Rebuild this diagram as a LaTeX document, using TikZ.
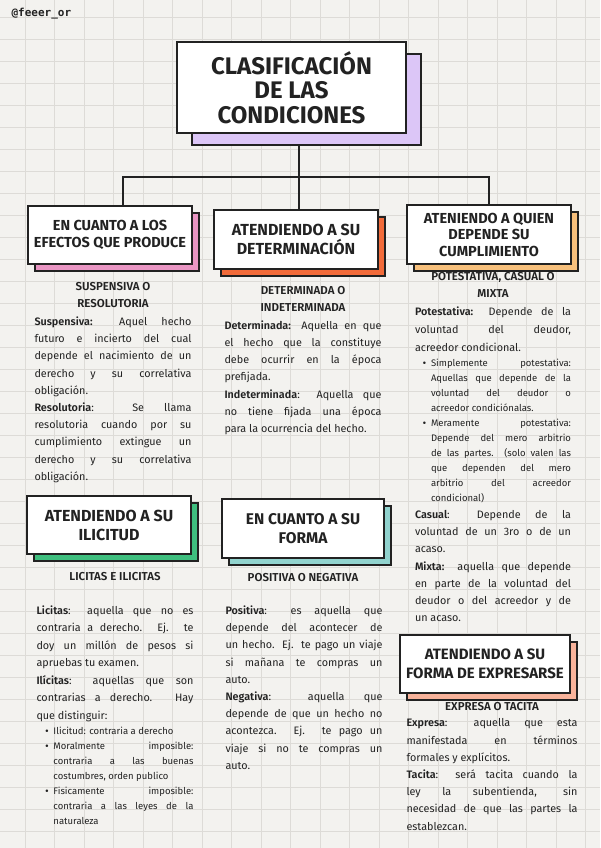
\documentclass[tikz,border=0pt]{standalone}
\usepackage{fontspec}
\setmainfont{Fira Sans}[BoldFont={* SemiBold}]
\newfontfamily\hdfont{Fira Sans}[UprightFont={* Bold}]
\newfontfamily\tagfont{DejaVu Sans Mono}
\usepackage{xcolor}
\usepackage{tikz}
\usetikzlibrary{positioning,shadows,backgrounds}

\setlength{\parindent}{0pt}

\definecolor{paper}{HTML}{F3F2EF}
\definecolor{gridc}{HTML}{DDDBD7}
\definecolor{tinta}{HTML}{222222}
\definecolor{lila}{HTML}{DCC6F7}
\definecolor{rosa}{HTML}{E995C3}
\definecolor{naranja}{HTML}{F26B3A}
\definecolor{durazno}{HTML}{F7C07C}
\definecolor{verde}{HTML}{3FBF7F}
\definecolor{turquesa}{HTML}{91D3CE}
\definecolor{salmon}{HTML}{F8B39B}

% bullet paragraph: #1 = left indent of the text
\newcommand{\punto}[2][16pt]{{\fontsize{9.5}{15}\selectfont\leftskip=#1\relax
  \leavevmode\llap{{\bfseries\textbullet}\hspace{5pt}}#2\par}}

\begin{document}
\begin{tikzpicture}[x=1pt, y=-1pt,
node distance=10pt,
caja/.style={draw=tinta, line width=1.6pt, fill=white, align=center, inner sep=2pt,
  minimum width=164pt, minimum height=58pt, text=tinta,
  font=\hdfont\fontsize{14.5}{17}\selectfont},
sombra/.style={general shadow={fill=#1, draw=tinta, line width=1.6pt,
  shadow xshift=7pt, shadow yshift=-7pt}},
sub/.style={align=center, inner sep=0pt, text=tinta, font=\bfseries\fontsize{11.5}{17}\selectfont},
cuerpo/.style={text width=157pt, align=justify, inner sep=0pt, text=tinta,
  font=\fontsize{10.8}{17.2}\selectfont},
link/.style={draw=tinta, line width=1.4pt}
]
\useasboundingbox (0,0) rectangle (600,848);

\node[anchor=west, text=tinta, font=\tagfont\bfseries\fontsize{11}{11}\selectfont] (firma) at (8,14) {@feeer\_or};

\node[caja, minimum width=229pt, minimum height=91pt, font=\hdfont\fontsize{24}{24.5}\selectfont,
  general shadow={fill=lila, draw=tinta, line width=1.6pt, shadow xshift=15pt, shadow yshift=-12pt}]
  (titulo) at (291.5,87.5) {CLASIFICACIÓN\\DE LAS\\CONDICIONES};

% first row
\node[caja, sombra=rosa] (efectos) at (110,235) {EN CUANTO A LOS\\EFECTOS QUE PRODUCE};
\node[caja, sombra=naranja, minimum height=59pt, font=\hdfont\fontsize{16}{19}\selectfont] (determ) at (296,239.5) {ATENDIENDO A SU\\DETERMINACIÓN};
\node[caja, sombra=durazno, minimum height=59pt, font=\hdfont\fontsize{14.5}{16.5}\selectfont] (quien) at (489,234.5) {ATENIENDO A QUIEN\\DEPENDE SU\\CUMPLIMIENTO};

\node[sub, below=17pt of efectos, xshift=3pt] (susp) {SUSPENSIVA O\\RESOLUTORIA};
\node[cuerpo, below=9pt of susp] (suspTxt) {\textbf{Suspensiva:} Aquel hecho \linebreak
futuro e incierto del cual \linebreak depende el nacimiento de un \linebreak
derecho y su correlativa \linebreak obligación.\\
\textbf{Resolutoria}: Se llama \linebreak resolutoria cuando por su \linebreak
cumplimiento extingue un \linebreak derecho y su correlativa \linebreak obligación.};

\node[sub, below=16pt of determ, xshift=7pt] (indet) {DETERMINADA O\\INDETERMINADA};
\node[cuerpo, below=9pt of indet] (indetTxt) {\textbf{Determinada:} Aquella en que \linebreak
el hecho que la constituye \linebreak debe ocurrir en la época \linebreak prefijada.\\
\textbf{Indeterminada}: Aquella que \linebreak no tiene fijada una época \linebreak
para la ocurrencia del hecho.};

\node[sub, below=7pt of quien, xshift=4pt] (potest) {POTESTATIVA, CASUAL O\\MIXTA};
\node[cuerpo, text width=156pt, below=9pt of potest, font=\fontsize{10.8}{18}\selectfont] (potestTxt) {\textbf{Potestativa:} Depende de la \linebreak
voluntad del deudor, \linebreak acreedor condicional.\par
\punto{Simplemente potestativa: \linebreak Aquellas que depende de la \linebreak
voluntad del deudor o \linebreak acreedor condiciónalas.}
\punto{Meramente potestativa: \linebreak Depende del mero arbitrio \linebreak
de las partes. (solo valen las \linebreak que dependen del mero \linebreak
arbitrio del acreedor \linebreak condicional)}
{\fontsize{10.8}{17.2}\selectfont
\textbf{Casual}: Depende de la \linebreak voluntad de un 3ro o de un \linebreak acaso.\par
\textbf{Mixta:} aquella que depende \linebreak en parte de la voluntad del \linebreak
deudor o del acreedor y de \linebreak un acaso.\par}};

% second row
\node[caja, sombra=verde, font=\hdfont\fontsize{16}{19}\selectfont] (ilicitud) at (109,525) {ATENDIENDO A SU\\ILICITUD};
\node[caja, sombra=turquesa, minimum width=162pt, minimum height=59pt, font=\hdfont\fontsize{15.5}{19}\selectfont] (forma) at (303,528.5) {EN CUANTO A SU\\FORMA};
\node[caja, sombra=salmon, minimum width=170pt, font=\hdfont\fontsize{15}{19}\selectfont] (expresa) at (485,664) {ATENDIENDO A SU\\FORMA DE EXPRESARSE};

\node[sub, below=17pt of ilicitud, xshift=6pt] (licitas) {LICITAS E ILICITAS};
\node[cuerpo, below=25pt of licitas, font=\fontsize{10.8}{17.5}\selectfont] (licitasTxt) {\textbf{Licitas}: aquella que no es \linebreak
contraria a derecho. Ej. te \linebreak doy un millón de pesos si \linebreak apruebas tu examen.\\
\textbf{Ilícitas}: aquellas que son \linebreak contrarias a derecho. Hay \linebreak que distinguir:\par
\punto[17pt]{Ilicitud: contraria a derecho}
\punto[17pt]{Moralmente imposible: \linebreak contraria a las buenas \linebreak costumbres, orden publico}
\punto[17pt]{Fisicamente imposible: \linebreak contraria a las leyes de la \linebreak naturaleza}};

\node[sub, below=14pt of forma] (posit) {POSITIVA O NEGATIVA};
\node[cuerpo, below=24pt of posit, xshift=1pt] (positTxt) {\textbf{Positiva}: es aquella que \linebreak
depende del acontecer de \linebreak un hecho. Ej. te pago un viaje \linebreak
si mañana te compras un \linebreak auto.\\
\textbf{Negativa}: aquella que \linebreak depende de que un hecho no \linebreak
acontezca. Ej. te pago un \linebreak viaje si no te compras un \linebreak auto.};

\node[sub, below=8pt of expresa, xshift=7pt] (tacita) {EXPRESA O TACITA};
\node[cuerpo, text width=171pt, below=8pt of tacita] (tacitaTxt) {\textbf{Expresa}: aquella que esta \linebreak
manifestada en términos \linebreak formales y explícitos.\\
\textbf{Tacita}: será tacita cuando la \linebreak ley la subentienda, sin \linebreak
necesidad de que las partes la \linebreak establezcan.};

\begin{scope}[on background layer]
\fill[paper] (0,0) rectangle (600,848);
\foreach \gx in {25,54.5,...,600} \draw[gridc, line width=0.6pt] (\gx,0) -- (\gx,848);
\foreach \gy in {17,39,...,848} \draw[gridc, line width=0.6pt] (0,\gy) -- (600,\gy);
\coordinate (rama) at (299,177);
\draw[link] (titulo.south -| rama) -- (rama);
\draw[link] ([xshift=13pt]efectos.north) |- (rama) -| (quien.north);
\draw[link] (rama) -- (rama |- determ.north);
\end{scope}
\end{tikzpicture}
\end{document}
